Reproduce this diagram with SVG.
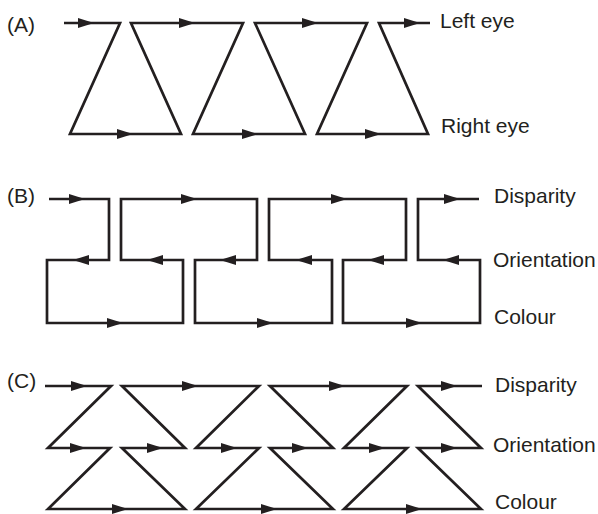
<svg xmlns="http://www.w3.org/2000/svg" xmlns:xlink="http://www.w3.org/1999/xlink" width="598" height="514" viewBox="0 0 598 514">
<style>
.ln{fill:none;stroke:#231f20;stroke-width:2.7;stroke-linejoin:miter;stroke-linecap:butt}
.ah{fill:#231f20}
.t{font-family:"Liberation Sans",Arial,Helvetica,sans-serif;font-size:21px;fill:#231f20}
</style>
<defs>
<path id="ar" d="M0,0 L-16,-5 L-16,5 Z" class="ah"/>
<path id="al" d="M0,0 L16,-5 L16,5 Z" class="ah"/>
</defs>
<rect width="598" height="514" fill="#ffffff"/>

<g id="labels">
<g id="label-A"><text class="t" x="7" y="32">(A)</text></g>
<g id="label-B"><text class="t" x="7" y="203">(B)</text></g>
<g id="label-C"><text class="t" x="7" y="388">(C)</text></g>
<g id="A-left"><text class="t" x="440" y="28">Left eye</text></g>
<g id="A-right"><text class="t" x="441" y="133">Right eye</text></g>
<g id="B-disp"><text class="t" x="494" y="203">Disparity</text></g>
<g id="B-orient"><text class="t" x="493" y="267">Orientation</text></g>
<g id="B-colour"><text class="t" x="494" y="324">Colour</text></g>
<g id="C-disp"><text class="t" x="495" y="392">Disparity</text></g>
<g id="C-orient"><text class="t" x="493" y="452">Orientation</text></g>
<g id="C-colour"><text class="t" x="495" y="509">Colour</text></g>
</g>

<g id="connectors">
<!-- Panel A -->
<path class="ln" d="M64,23 H120 L70,134 H181 L131,23 H243 L193,134 H305 L255,23 H367 L317,134 H428 L379,23 H430"/>
<use xlink:href="#ar" x="94" y="23"/>
<use xlink:href="#ar" x="195" y="23"/>
<use xlink:href="#ar" x="318" y="23"/>
<use xlink:href="#ar" x="420" y="23"/>
<use xlink:href="#ar" x="133" y="134"/>
<use xlink:href="#ar" x="258" y="134"/>
<use xlink:href="#ar" x="381" y="134"/>

<!-- Panel B -->
<path class="ln" d="M49,199 H109 V260 H47 V323 H183 V260 H121 V199 H257 V260 H195 V323 H332 V260 H269 V199 H406 V260 H343 V323 H480 V260 H418 V199 H479"/>
<use xlink:href="#ar" x="85" y="199"/>
<use xlink:href="#ar" x="197" y="199"/>
<use xlink:href="#ar" x="347" y="199"/>
<use xlink:href="#ar" x="460" y="199"/>
<use xlink:href="#al" x="73" y="260"/>
<use xlink:href="#al" x="147" y="260"/>
<use xlink:href="#al" x="220" y="260"/>
<use xlink:href="#al" x="296" y="260"/>
<use xlink:href="#al" x="368" y="260"/>
<use xlink:href="#al" x="443" y="260"/>
<use xlink:href="#ar" x="123" y="323"/>
<use xlink:href="#ar" x="273" y="323"/>
<use xlink:href="#ar" x="422" y="323"/>

<!-- Panel C -->
<path class="ln" d="M45,386 H111 L48,448 H110 L48,509 H185 L122,448 H185 L122,386 H259 L196,448 H259 L196,509 H333 L270,448 H333 L270,386 H407 L344,448 H407 L344,509 H481 L418,448 H481 L418,386 H482"/>
<use xlink:href="#ar" x="87" y="386"/>
<use xlink:href="#ar" x="198" y="386"/>
<use xlink:href="#ar" x="345" y="386"/>
<use xlink:href="#ar" x="457" y="386"/>
<use xlink:href="#ar" x="86" y="448"/>
<use xlink:href="#ar" x="163" y="448"/>
<use xlink:href="#ar" x="237" y="448"/>
<use xlink:href="#ar" x="308" y="448"/>
<use xlink:href="#ar" x="385" y="448"/>
<use xlink:href="#ar" x="457" y="448"/>
<use xlink:href="#ar" x="128" y="509"/>
<use xlink:href="#ar" x="277" y="509"/>
<use xlink:href="#ar" x="422" y="509"/>
</g>
</svg>
